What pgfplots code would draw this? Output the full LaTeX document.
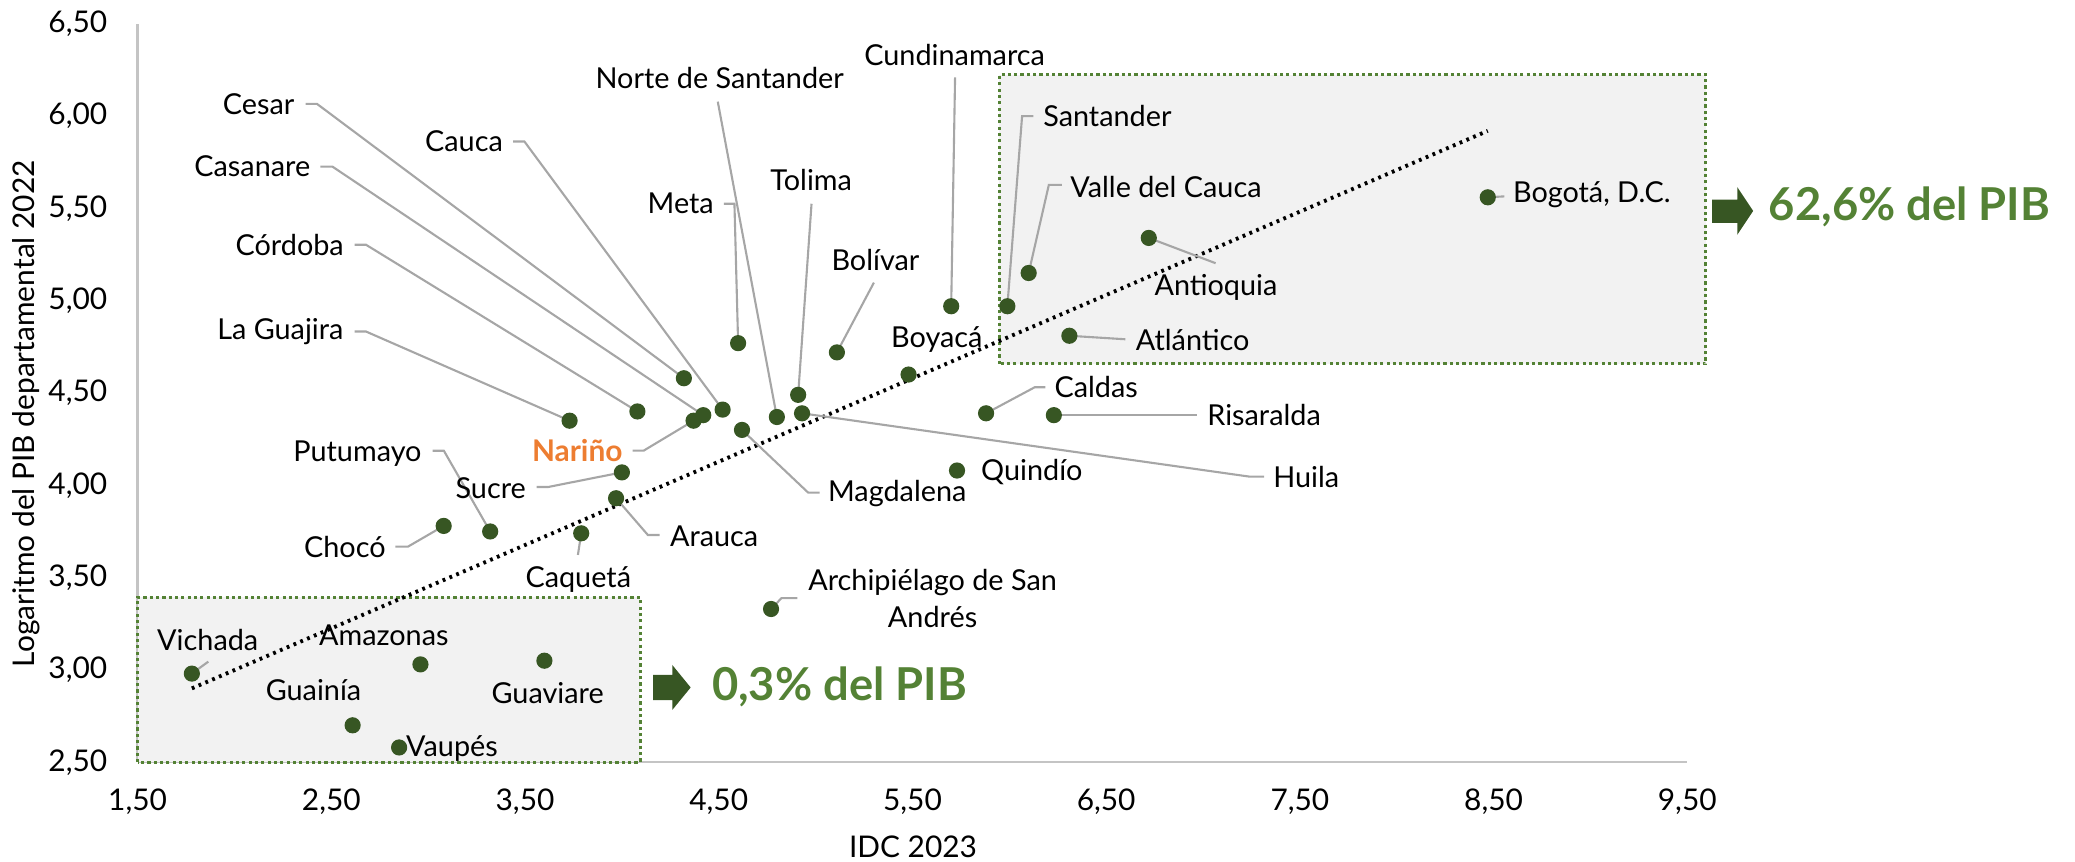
\documentclass[border=0pt]{standalone}
\usepackage{pgfplots}
\pgfplotsset{compat=1.18}
\usepackage{fontspec}
\setmainfont{Lato}
\definecolor{dotg}{HTML}{375623}
\definecolor{txtg}{HTML}{548235}
\definecolor{naranja}{HTML}{ED7D31}
\definecolor{lgris}{HTML}{A6A6A6}
\definecolor{eje}{HTML}{C4C4C4}
\definecolor{caja}{HTML}{F2F2F2}
\tikzset{leader/.style={draw=lgris, line width=0.6pt},
  lab/.style={inner sep=0pt}}

\begin{document}
\begin{tikzpicture}[font=\fontsize{8.2}{10.4}\selectfont]
\begin{axis}[
  scale only axis, width=15.497cm, height=7.385cm,
  xmin=1.5, xmax=9.5, ymin=2.5, ymax=6.5,
  xtick={1.5,2.5,3.5,4.5,5.5,6.5,7.5,8.5,9.5},
  ytick={2.5,3,3.5,4,4.5,5,5.5,6,6.5},
  axis x line=bottom, axis y line=left,
  axis line style={-, eje, line width=0.7pt},
  major tick length=0pt,
  ticklabel style={font=\fontsize{8.5}{10}\selectfont},
  xticklabel style={yshift=-0.14cm},
  yticklabel style={xshift=-0.18cm},
  /pgf/number format/use comma,
  /pgf/number format/fixed,
  /pgf/number format/fixed zerofill,
  /pgf/number format/precision=2,
  /pgf/number format/assume math mode=true,
  xlabel={IDC 2023},
  ylabel={Logaritmo del PIB departamental 2022},
  label style={font=\fontsize{8.5}{10}\selectfont},
  xlabel style={at={(axis description cs:0.5004,-0.1143)}, anchor=center},
  ylabel style={at={(axis description cs:-0.0716,0.472)}, anchor=center, rotate=0},
  clip=false,
]
% shaded groups
\fill[caja] (axis cs:5.949,4.658) rectangle (axis cs:9.596,6.223);
\draw[txtg, line width=0.9pt, dash pattern=on 0.9pt off 0.9pt] (axis cs:5.949,4.658) rectangle (axis cs:9.596,6.223);
\fill[caja] (axis cs:1.5,2.5) rectangle (axis cs:4.094,3.394);
\draw[txtg, line width=0.9pt, dash pattern=on 0.9pt off 0.9pt] (axis cs:1.5,2.5) rectangle (axis cs:4.094,3.394);

% trend line
\addplot[black, line width=1.1pt, dash pattern=on 0.8pt off 1.3pt] coordinates {(1.78,2.90) (8.47,5.92)};

% leader lines
\draw[leader] (axis cs:2.367,6.066) -- (axis cs:2.426,6.066) -- (axis cs:4.32,4.58);
\draw[leader] (axis cs:3.438,5.862) -- (axis cs:3.497,5.862) -- (axis cs:4.52,4.41);
\draw[leader] (axis cs:2.443,5.726) -- (axis cs:2.506,5.726) -- (axis cs:4.42,4.38);
\draw[leader] (axis cs:2.620,5.303) -- (axis cs:2.679,5.303) -- (axis cs:4.08,4.40);
\draw[leader] (axis cs:2.620,4.833) -- (axis cs:2.679,4.833) -- (axis cs:3.73,4.35);
\draw[leader] (axis cs:4.495,6.078) -- (axis cs:4.80,4.37);
\draw[leader] (axis cs:5.72,6.21) -- (axis cs:5.70,4.97);
\draw[leader] (axis cs:4.526,5.525) -- (axis cs:4.581,5.525) -- (axis cs:4.60,4.77);
\draw[leader] (axis cs:4.979,5.525) -- (axis cs:4.91,4.49);
\draw[leader] (axis cs:5.301,5.098) -- (axis cs:5.11,4.72);
\draw[leader] (axis cs:6.124,6.000) -- (axis cs:6.066,6.000) -- (axis cs:5.99,4.97);
\draw[leader] (axis cs:6.271,5.627) -- (axis cs:6.204,5.627) -- (axis cs:6.10,5.15);
\draw[leader] (axis cs:6.72,5.34) -- (axis cs:7.065,5.203);
\draw[leader] (axis cs:6.31,4.81) -- (axis cs:6.599,4.791);
\draw[leader] (axis cs:5.88,4.39) -- (axis cs:6.131,4.531) -- (axis cs:6.186,4.531);
\draw[leader] (axis cs:6.23,4.38) -- (axis cs:6.968,4.38);
\draw[leader] (axis cs:4.93,4.39) -- (axis cs:7.240,4.047) -- (axis cs:7.316,4.047);
\draw[leader] (axis cs:4.62,4.30) -- (axis cs:4.962,3.960) -- (axis cs:5.021,3.960);
\draw[leader] (axis cs:4.77,3.33) -- (axis cs:4.824,3.389) -- (axis cs:4.906,3.389);
\draw[leader] (axis cs:3.97,3.93) -- (axis cs:4.134,3.731) -- (axis cs:4.195,3.731);
\draw[leader] (axis cs:3.79,3.74) -- (axis cs:3.773,3.623);
\draw[leader] (axis cs:3.560,3.991) -- (axis cs:3.620,3.991) -- (axis cs:4.00,4.07);
\draw[leader] (axis cs:4.055,4.188) -- (axis cs:4.113,4.188) -- (axis cs:4.37,4.35);
\draw[leader] (axis cs:3.023,4.187) -- (axis cs:3.081,4.187) -- (axis cs:3.32,3.75);
\draw[leader] (axis cs:2.831,3.668) -- (axis cs:2.896,3.668) -- (axis cs:3.08,3.78);
\draw[leader] (axis cs:1.78,2.98) -- (axis cs:1.865,3.045);
\draw[leader] (axis cs:8.47,5.56) -- (axis cs:8.556,5.565);

% departments
\addplot[only marks, mark=*, mark size=2.1pt, mark options={fill=dotg, draw=dotg}] table {
x y
1.78 2.98
2.61 2.70
2.85 2.58
2.96 3.03
3.08 3.78
3.32 3.75
3.60 3.05
3.73 4.35
3.79 3.74
3.97 3.93
4.00 4.07
4.08 4.40
4.32 4.58
4.37 4.35
4.42 4.38
4.52 4.41
4.60 4.77
4.62 4.30
4.77 3.33
4.80 4.37
4.91 4.49
4.93 4.39
5.11 4.72
5.48 4.60
5.70 4.97
5.73 4.08
5.88 4.39
5.99 4.97
6.10 5.15
6.23 4.38
6.31 4.81
6.72 5.34
8.47 5.56
};

% labels
\node[lab, anchor=east] at (axis cs:2.313,6.066) {Cesar};
\node[lab, anchor=east] at (axis cs:3.389,5.862) {Cauca};
\node[lab, anchor=east] at (axis cs:2.395,5.726) {Casanare};
\node[lab, anchor=east] at (axis cs:2.568,5.303) {Córdoba};
\node[lab, anchor=east] at (axis cs:2.566,4.833) {La Guajira};
\node[lab] at (axis cs:4.505,6.206) {Norte de Santander};
\node[lab] at (axis cs:5.718,6.331) {Cundinamarca};
\node[lab, anchor=east] at (axis cs:4.478,5.525) {Meta};
\node[lab] at (axis cs:4.977,5.654) {Tolima};
\node[lab] at (axis cs:5.309,5.220) {Bolívar};
\node[lab, anchor=west] at (axis cs:6.172,6.000) {Santander};
\node[lab, anchor=west] at (axis cs:6.312,5.618) {Valle del Cauca};
\node[lab] at (axis cs:7.067,5.074) {Antioquia};
\node[lab, anchor=west] at (axis cs:6.650,4.787) {Atlántico};
\node[lab] at (axis cs:5.626,4.787) {Boyacá};
\node[lab, anchor=west] at (axis cs:6.230,4.531) {Caldas};
\node[lab, anchor=west] at (axis cs:7.019,4.381) {Risaralda};
\node[lab, anchor=west] at (axis cs:7.359,4.043) {Huila};
\node[lab, anchor=west] at (axis cs:5.851,4.074) {Quindío};
\node[lab, anchor=west] at (axis cs:5.061,3.957) {Magdalena};
\node[lab, align=center] at (axis cs:5.604,3.388) {Archipiélago de San\\Andrés};
\node[lab, anchor=west] at (axis cs:4.245,3.722) {Arauca};
\node[lab] at (axis cs:3.775,3.489) {Caquetá};
\node[lab, anchor=east] at (axis cs:3.508,3.984) {Sucre};
\node[lab, anchor=east, text=naranja, font=\bfseries\fontsize{8.5}{10.4}\selectfont] at (axis cs:4.007,4.188) {Nariño};
\node[lab, anchor=east] at (axis cs:2.969,4.174) {Putumayo};
\node[lab, anchor=east] at (axis cs:2.784,3.668) {Chocó};
\node[lab] at (axis cs:1.862,3.162) {Vichada};
\node[lab] at (axis cs:2.771,3.190) {Amazonas};
\node[lab] at (axis cs:2.408,2.891) {Guainía};
\node[lab] at (axis cs:3.617,2.877) {Guaviare};
\node[lab, anchor=west] at (axis cs:2.883,2.576) {Vaupés};
\node[lab, anchor=west] at (axis cs:8.597,5.573) {Bogotá, D.C.};

% share of GDP callouts
\fill[dotg] (axis cs:9.628,5.548) -- (axis cs:9.758,5.548) -- (axis cs:9.758,5.615) -- (axis cs:9.840,5.486) -- (axis cs:9.758,5.357) -- (axis cs:9.758,5.421) -- (axis cs:9.628,5.421) -- cycle;
\node[lab, anchor=west, text=txtg, font=\bfseries\fontsize{12.9}{15}\selectfont] at (axis cs:9.918,5.509) {62,6\% del PIB};
\fill[dotg] (axis cs:4.161,2.973) -- (axis cs:4.260,2.973) -- (axis cs:4.260,3.027) -- (axis cs:4.355,2.905) -- (axis cs:4.260,2.783) -- (axis cs:4.260,2.837) -- (axis cs:4.161,2.837) -- cycle;
\node[lab, anchor=west, text=txtg, font=\bfseries\fontsize{12.9}{15}\selectfont] at (axis cs:4.462,2.906) {0,3\% del PIB};

\coordinate (bbsw) at (rel axis cs:-0.0888,-0.135);
\coordinate (bbne) at (rel axis cs:1.2502,1.0322);
\end{axis}
\pgfresetboundingbox
\useasboundingbox (bbsw) rectangle (bbne);
\end{tikzpicture}
\end{document}
